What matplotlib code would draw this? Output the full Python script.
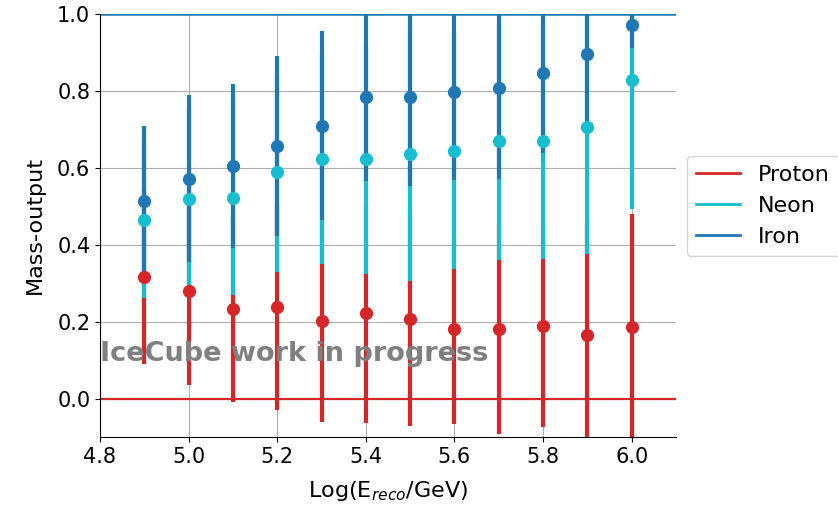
import matplotlib
matplotlib.use("Agg")
import matplotlib.pyplot as plt
from matplotlib.lines import Line2D

energy = [4.9, 5.0, 5.1, 5.2, 5.3, 5.4, 5.5, 5.6, 5.7, 5.8, 5.9, 6.0]
proton = [0.316, 0.280, 0.232, 0.238, 0.201, 0.223, 0.208, 0.181, 0.181, 0.188, 0.166, 0.187]
proton_err = [0.225, 0.246, 0.241, 0.268, 0.261, 0.286, 0.279, 0.247, 0.273, 0.263, 0.29, 0.292]
neon = [0.463, 0.519, 0.522, 0.588, 0.624, 0.624, 0.636, 0.644, 0.669, 0.669, 0.705, 0.828]
neon_err = [0.201, 0.232, 0.253, 0.259, 0.275, 0.299, 0.331, 0.308, 0.31, 0.307, 0.328, 0.334]
iron = [0.513, 0.572, 0.604, 0.657, 0.710, 0.783, 0.785, 0.797, 0.807, 0.846, 0.896, 0.971]
iron_err = [0.197, 0.218, 0.213, 0.234, 0.246, 0.218, 0.233, 0.228, 0.235, 0.208, 0.188, 0.06]

series = [("Proton", proton, proton_err, "#d62728"),
          ("Neon", neon, neon_err, "#17becf"),
          ("Iron", iron, iron_err, "#1f77b4")]

fig = plt.figure(figsize=(8.38, 5.05), dpi=100)
ax = fig.add_axes([0.1193, 0.1347, 0.6874, 0.8376])

for i, (name, vals, errs, col) in enumerate(series):
    ax.errorbar(energy, vals, yerr=errs, fmt="none", ecolor=col, elinewidth=3, zorder=2 + i * 0.1)
for name, vals, errs, col in series:
    ax.plot(energy, vals, "o", color=col, markersize=8.5, zorder=3)

ax.axhline(0, color="#d62728", lw=1.6, zorder=2.5)
ax.axhline(1, color="#1f77b4", lw=1.8, zorder=2.5)

ax.text(4.8, 0.117, "IceCube work in progress", fontsize=19.5, fontweight="bold",
        color="gray", ha="left", va="center", zorder=4)

ax.set_xlim(4.8, 6.1)
ax.set_ylim(-0.1, 1.0)
ax.set_xticks([4.8, 5.0, 5.2, 5.4, 5.6, 5.8, 6.0])
ax.set_yticks([0.0, 0.2, 0.4, 0.6, 0.8, 1.0])
ax.tick_params(labelsize=15)
ax.grid(True, color="#b0b0b0", lw=0.8, zorder=0)
ax.set_axisbelow(True)
for s in ["top", "right"]:
    ax.spines[s].set_visible(False)

ax.set_xlabel(r"Log(E$_{reco}$/GeV)", fontsize=16, labelpad=9)
ax.set_ylabel("Mass-output", fontsize=16, labelpad=9)

handles = [Line2D([0], [0], color=c, lw=2) for _, _, _, c in series]
ax.legend(handles, [s[0] for s in series], loc="center left", bbox_to_anchor=(1.0, 0.546),
          fontsize=16)

fig.savefig("out.png", dpi=100)
